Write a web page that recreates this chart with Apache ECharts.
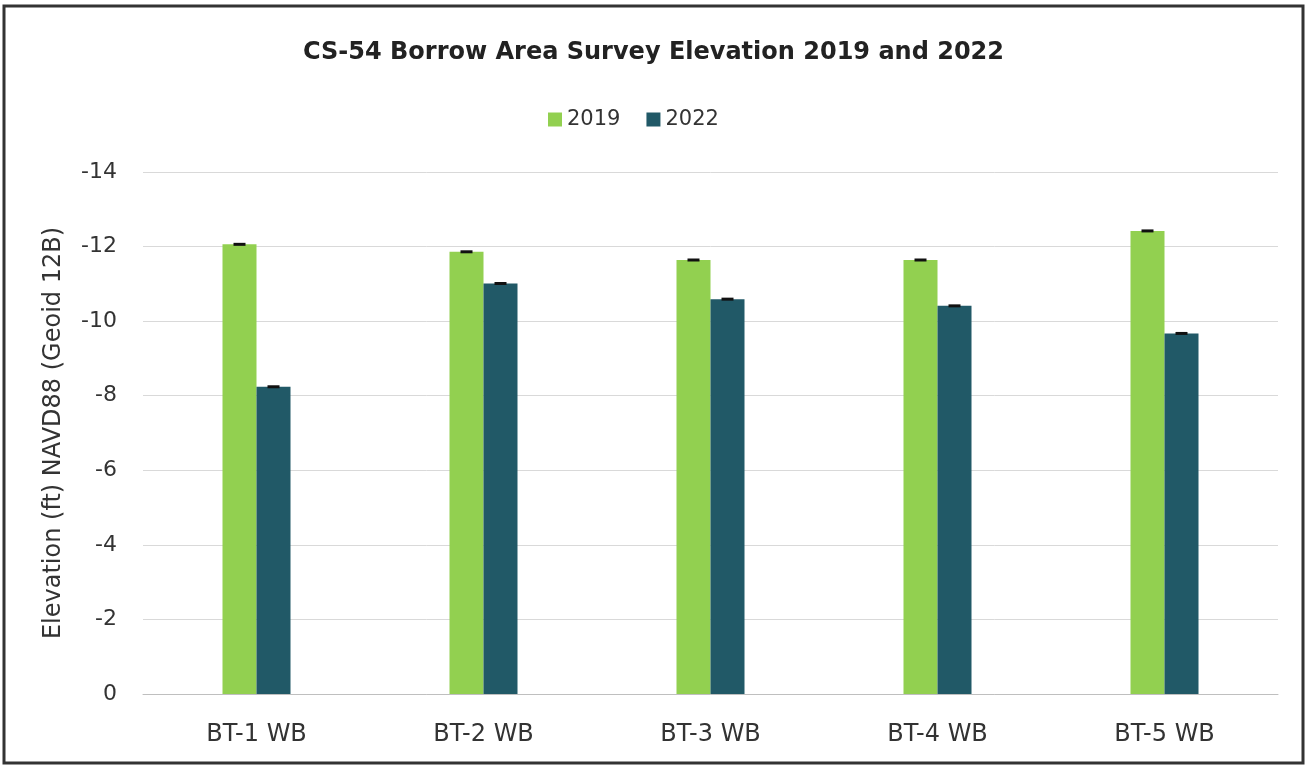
<!DOCTYPE html>
<html>
<head>
<meta charset="utf-8">
<script src="https://cdn.jsdelivr.net/npm/echarts@6/dist/echarts.min.js"></script>
<style>
html,body{margin:0;padding:0;background:#fff;}
#c{width:1307px;height:769px;}
</style>
</head>
<body>
<div id="c"></div>
<script>
const categories = ['BT-1 WB', 'BT-2 WB', 'BT-3 WB', 'BT-4 WB', 'BT-5 WB'];
const values2019 = [-12.06, -11.86, -11.64, -11.64, -12.42];
const values2022 = [-8.24, -11.01, -10.59, -10.41, -9.67];
const errors2019 = [0.04, 0.04, 0.04, 0.04, 0.04];
const errors2022 = [0.04, 0.04, 0.04, 0.04, 0.04];
const yTicks = [-14, -12, -10, -8, -6, -4, -2, 0];

const FONT = '"DejaVu Sans", sans-serif';
const BAR_W = 34;

function errSeries(name, vals, errs, offset) {
  return {
    type: 'custom',
    name: name + ' err',
    silent: true,
    z: 5,
    data: vals.map((v, i) => [i, v, errs[i]]),
    renderItem: function (params, api) {
      const p = api.coord([api.value(0), api.value(1)]);
      const h = Math.max(Math.abs(api.size([0, api.value(2)])[1]), 1.5);
      return {
        type: 'rect',
        shape: { x: p[0] + offset - 6, y: p[1] - h, width: 12, height: h * 2 },
        style: { fill: '#111' }
      };
    }
  };
}

const chart = echarts.init(document.getElementById('c'));
chart.setOption({
  animation: false,
  backgroundColor: '#fff',
  title: {
    text: 'CS-54 Borrow Area Survey Elevation 2019 and 2022',
    left: 'center',
    top: 36,
    textStyle: { fontFamily: FONT, fontSize: 24, fontWeight: 'bold', color: '#222' }
  },
  legend: {
    data: ['2019', '2022'],
    left: 543,
    top: 104,
    itemWidth: 14,
    itemHeight: 14,
    itemGap: 26,
    itemTextGap: 10,
    icon: 'rect',
    textStyle: { fontFamily: FONT, fontSize: 21, color: '#333' }
  },
  graphic: [{
    type: 'rect',
    shape: { x: 4, y: 6, width: 1299, height: 757 },
    style: { fill: 'none', stroke: '#333', lineWidth: 3 },
    z: 100
  }],
  grid: { left: 143, right: 29, top: 172, bottom: 75, containLabel: false },
  xAxis: {
    type: 'category',
    data: categories,
    axisLine: { lineStyle: { color: '#bfbfbf', width: 1 } },
    axisTick: { show: false },
    axisLabel: { fontFamily: FONT, fontSize: 24, color: '#333', margin: 29 }
  },
  yAxis: {
    type: 'value',
    inverse: true,
    min: yTicks[0],
    max: yTicks[yTicks.length - 1],
    interval: 2,
    name: 'Elevation (ft) NAVD88 (Geoid 12B)',
    nameLocation: 'middle',
    nameGap: 77,
    nameRotate: 90,
    nameTextStyle: { fontFamily: FONT, fontSize: 24, color: '#333' },
    axisLine: { show: false },
    axisTick: { show: false },
    axisLabel: { fontFamily: FONT, fontSize: 22, color: '#333', margin: 26 },
    splitLine: { lineStyle: { color: '#d9d9d9', width: 1 } }
  },
  series: [
    {
      name: '2019', type: 'bar', data: values2019, barWidth: BAR_W, barGap: '0%',
      itemStyle: { color: '#92D050' }
    },
    {
      name: '2022', type: 'bar', data: values2022, barWidth: BAR_W, barGap: '0%',
      itemStyle: { color: '#215967' }
    },
    errSeries('2019', values2019, errors2019, -BAR_W / 2),
    errSeries('2022', values2022, errors2022, BAR_W / 2)
  ]
});
</script>
</body>
</html>
